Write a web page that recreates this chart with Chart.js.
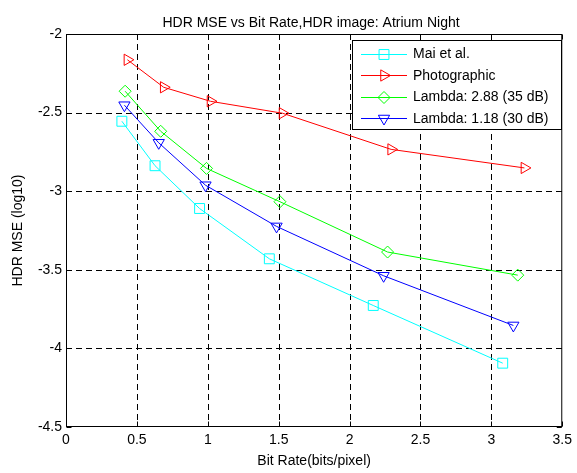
<!DOCTYPE html>
<html><head><meta charset="utf-8">
<script src="https://cdn.jsdelivr.net/npm/chart.js@4/dist/chart.umd.min.js"></script>
<style>html,body{margin:0;padding:0;background:#fff}#wrap{width:577px;height:473px;position:relative}</style>
</head><body><div id="wrap"><canvas id="c"></canvas></div>
<script>
const chartTitle = 'HDR MSE vs Bit Rate,HDR image: Atrium Night';
const xTitle = 'Bit Rate(bits/pixel)';
const yTitle = 'HDR MSE (log10)';
const seriesNames = ['Mai et al.', 'Photographic', 'Lambda: 2.88 (35 dB)', 'Lambda: 1.18 (30 dB)'];
const maiX = [0.394, 0.628, 0.942, 1.434, 2.167, 3.08];
const maiY = [-2.555, -2.838, -3.11, -3.43, -3.727, -4.094];
const photoX = [0.433, 0.689, 1.019, 1.527, 2.293, 3.233];
const photoY = [-2.164, -2.339, -2.428, -2.504, -2.734, -2.852];
const lam288X = [0.417, 0.668, 0.991, 1.509, 2.268, 3.186];
const lam288Y = [-2.364, -2.619, -2.855, -3.067, -3.387, -3.534];
const lam118X = [0.412, 0.654, 0.984, 1.485, 2.24, 3.155];
const lam118Y = [-2.453, -2.692, -2.962, -3.224, -3.538, -3.854];
const xTicks = [0, 0.5, 1, 1.5, 2, 2.5, 3, 3.5];
const yTicks = [-4.5, -4, -3.5, -3, -2.5, -2];

const FONT = '"Liberation Sans", Arial, Helvetica, sans-serif';
const pts = (xs, ys) => xs.map((x, i) => ({x, y: ys[i]}));

const styles = [
  {color: '#00ffff', pointStyle: 'rect', radius: 7, rotation: 0},
  {color: '#ff0000', pointStyle: 'triangle', radius: 6.5, rotation: 90},
  {color: '#00ff00', pointStyle: 'rectRot', radius: 6, rotation: 0},
  {color: '#0000ff', pointStyle: 'triangle', radius: 6.5, rotation: 180}
];
const seriesData = [pts(maiX, maiY), pts(photoX, photoY), pts(lam288X, lam288Y), pts(lam118X, lam118Y)];

const datasets = seriesData.map((d, i) => ({
  label: seriesNames[i],
  data: d,
  borderColor: styles[i].color,
  backgroundColor: 'rgba(0,0,0,0)',
  pointBackgroundColor: 'rgba(0,0,0,0)',
  pointBorderColor: styles[i].color,
  pointStyle: styles[i].pointStyle,
  pointRadius: styles[i].radius,
  pointRotation: styles[i].rotation,
  pointBorderWidth: 1,
  borderWidth: 1,
  tension: 0,
  fill: false
}));

function drawMarker(ctx, st, x, y) {
  ctx.save();
  ctx.strokeStyle = st.color;
  ctx.lineWidth = 1;
  ctx.beginPath();
  const r = st.radius;
  if (st.pointStyle === 'rect') {
    const s = Math.SQRT1_2 * r;
    ctx.rect(x - s, y - s, 2 * s, 2 * s);
  } else if (st.pointStyle === 'rectRot') {
    ctx.moveTo(x, y - r); ctx.lineTo(x + r, y); ctx.lineTo(x, y + r); ctx.lineTo(x - r, y); ctx.closePath();
  } else {
    const rot = (st.rotation || 0) * Math.PI / 180;
    for (let k = 0; k < 3; k++) {
      const a = rot - Math.PI / 2 + k * 2 * Math.PI / 3;
      const px = x + Math.cos(a) * r, py = y + Math.sin(a) * r;
      if (k === 0) ctx.moveTo(px, py); else ctx.lineTo(px, py);
    }
    ctx.closePath();
  }
  ctx.stroke();
  ctx.restore();
}

const framePlugin = {
  id: 'frame',
  beforeDatasetsDraw(chart) {
    const {ctx, chartArea: a, scales: {x, y}} = chart;
    ctx.save();
    ctx.strokeStyle = '#000';
    ctx.lineWidth = 1;
    ctx.setLineDash([6, 4]);
    xTicks.forEach(v => {
      const px = Math.round(x.getPixelForValue(v)) + 0.5;
      if (px <= a.left + 1 || px >= a.right - 1) return;
      ctx.beginPath(); ctx.moveTo(px, a.top); ctx.lineTo(px, a.bottom); ctx.stroke();
    });
    yTicks.forEach(v => {
      const py = Math.round(y.getPixelForValue(v)) + 0.5;
      if (py <= a.top + 1 || py >= a.bottom - 1) return;
      ctx.beginPath(); ctx.moveTo(a.left, py); ctx.lineTo(a.right, py); ctx.stroke();
    });
    ctx.restore();
  },
  afterDatasetsDraw(chart) {
    const {ctx, chartArea: a, scales: {x, y}} = chart;
    ctx.save();
    ctx.strokeStyle = '#000';
    ctx.lineWidth = 1;
    ctx.setLineDash([]);
    const L = a.left + 0.5, R = a.right - 0.5, T = a.top + 0.5, B = a.bottom - 0.5;
    ctx.strokeRect(L, T, R - L, B - T);
    const tl = 5;
    ctx.beginPath();
    xTicks.forEach(v => {
      const px = Math.round(x.getPixelForValue(v)) + 0.5;
      ctx.moveTo(px, B); ctx.lineTo(px, B - tl);
      ctx.moveTo(px, T); ctx.lineTo(px, T + tl);
    });
    yTicks.forEach(v => {
      const py = Math.round(y.getPixelForValue(v)) + 0.5;
      ctx.moveTo(L, py); ctx.lineTo(L + tl, py);
      ctx.moveTo(R, py); ctx.lineTo(R - tl, py);
    });
    ctx.stroke();

    // title
    ctx.fillStyle = '#000';
    ctx.font = '14px ' + FONT;
    ctx.textAlign = 'center';
    ctx.textBaseline = 'alphabetic';
    ctx.fillText(chartTitle, 311, 26.5);

    // legend
    const lx = 352.5, ly = 40.5, lw = 209, lh = 89;
    ctx.fillStyle = '#fff';
    ctx.fillRect(lx, ly, lw, lh);
    ctx.strokeStyle = '#000';
    ctx.strokeRect(lx, ly, lw, lh);
    ctx.font = '14px ' + FONT;
    ctx.textAlign = 'left';
    ctx.textBaseline = 'middle';
    seriesNames.forEach((name, i) => {
      const cy = 54 + i * 21.4;
      const st = styles[i];
      ctx.strokeStyle = st.color;
      ctx.lineWidth = 1;
      ctx.beginPath(); ctx.moveTo(361, Math.round(cy) + 0.5); ctx.lineTo(407, Math.round(cy) + 0.5); ctx.stroke();
      drawMarker(ctx, st, 384, Math.round(cy) + 0.5);
      ctx.fillStyle = '#000';
      ctx.fillText(name, 413, cy + 0.5);
    });
    ctx.restore();
  }
};

new Chart(document.getElementById('c'), {
  type: 'line',
  data: {datasets},
  plugins: [framePlugin],
  options: {
    responsive: true,
    maintainAspectRatio: false,
    animation: false,
    devicePixelRatio: 1,
    layout: {padding: {left: 0, right: 13, top: 34, bottom: 0}},
    plugins: {legend: {display: false}, title: {display: false}, tooltip: {enabled: false}},
    elements: {line: {borderWidth: 1}},
    scales: {
      x: {
        type: 'linear', min: 0, max: 3.5,
        afterBuildTicks: s => { s.ticks = xTicks.map(v => ({value: v})); },
        afterFit: s => { s.height = 46; },
        grid: {display: false, drawTicks: false},
        border: {display: false},
        ticks: {color: '#000', font: {family: FONT, size: 14}, padding: 5, maxRotation: 0, autoSkip: false,
                callback: v => String(v)},
        title: {display: true, text: xTitle, color: '#000', font: {family: FONT, size: 14}, padding: {top: 0, bottom: 3}}
      },
      y: {
        type: 'linear', min: -4.5, max: -2,
        afterBuildTicks: s => { s.ticks = yTicks.map(v => ({value: v})); },
        afterFit: s => { s.width = 66; },
        grid: {display: false, drawTicks: false},
        border: {display: false},
        ticks: {color: '#000', font: {family: FONT, size: 14}, padding: 4, autoSkip: false,
                callback: v => String(v)},
        title: {display: true, text: yTitle, color: '#000', font: {family: FONT, size: 14}, padding: {top: 10, bottom: 0}}
      }
    }
  }
});
</script>
</body></html>
